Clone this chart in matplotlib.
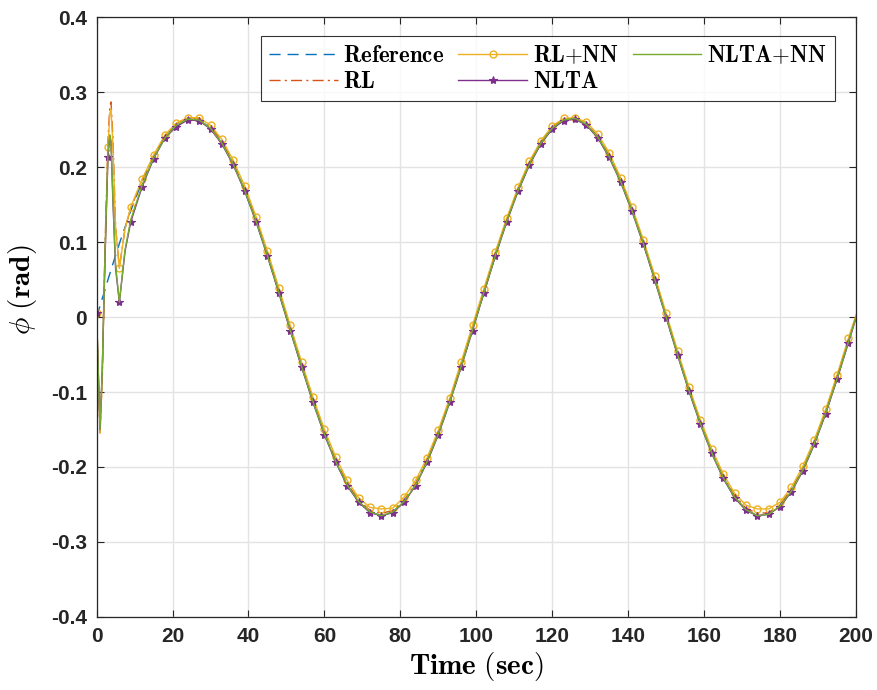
import numpy as np
import matplotlib.pyplot as plt

# time axis: fine samples in the start-up transient, then every 3 s
t_start = [0, 0.5, 0.9, 1.5, 2.2, 3, 3.5, 3.8, 4.3, 5, 6, 7.5]
t_steady = list(range(9, 199, 3)) + [200]
time = np.array(t_start + t_steady)

reference = [0.0, 0.008, 0.015, 0.025, 0.036, 0.050, 0.058, 0.063, 0.071, 0.082, 0.098, 0.120,
             0.142, 0.181, 0.214, 0.240, 0.257, 0.265, 0.263, 0.252, 0.232, 0.204, 0.169, 0.128,
             0.082, 0.033, -0.017, -0.066, -0.113, -0.156, -0.193, -0.224, -0.246, -0.260, -0.265,
             -0.260, -0.246, -0.224, -0.193, -0.156, -0.113, -0.066, -0.017, 0.033, 0.082, 0.128,
             0.169, 0.204, 0.232, 0.252, 0.263, 0.265, 0.257, 0.240, 0.214, 0.181, 0.142, 0.098,
             0.050, 0.000, -0.050, -0.098, -0.142, -0.181, -0.214, -0.240, -0.257, -0.265, -0.263,
             -0.252, -0.232, -0.204, -0.169, -0.128, -0.082, -0.033, 0.000]

rl = [0.005, -0.090, -0.157, -0.080, 0.090, 0.235, 0.282, 0.287, 0.240, 0.120, 0.066, 0.118,
      0.145, 0.183, 0.215, 0.241, 0.258, 0.266, 0.264, 0.254, 0.234, 0.206, 0.171, 0.130,
      0.084, 0.035, -0.015, -0.064, -0.111, -0.154, -0.191, -0.222, -0.244, -0.258, -0.262,
      -0.258, -0.244, -0.222, -0.191, -0.154, -0.111, -0.064, -0.015, 0.035, 0.084, 0.130,
      0.171, 0.206, 0.234, 0.254, 0.264, 0.266, 0.258, 0.241, 0.216, 0.183, 0.144, 0.100,
      0.052, 0.002, -0.048, -0.096, -0.140, -0.179, -0.212, -0.238, -0.255, -0.262, -0.261,
      -0.250, -0.230, -0.202, -0.167, -0.126, -0.080, -0.031, 0.001]

rl_nn = [0.005, -0.085, -0.155, -0.080, 0.080, 0.227, 0.272, 0.278, 0.230, 0.120, 0.065, 0.118,
         0.147, 0.184, 0.216, 0.243, 0.259, 0.266, 0.266, 0.256, 0.237, 0.209, 0.175, 0.134,
         0.088, 0.039, -0.011, -0.060, -0.107, -0.150, -0.187, -0.218, -0.241, -0.254, -0.256,
         -0.255, -0.240, -0.218, -0.188, -0.151, -0.108, -0.060, -0.011, 0.038, 0.087, 0.132,
         0.173, 0.208, 0.235, 0.255, 0.265, 0.266, 0.260, 0.244, 0.219, 0.186, 0.147, 0.103,
         0.055, 0.005, -0.045, -0.093, -0.137, -0.176, -0.209, -0.235, -0.251, -0.256, -0.256,
         -0.247, -0.227, -0.199, -0.164, -0.123, -0.077, -0.028, 0.003]

nlta = [0.005, -0.082, -0.150, -0.070, 0.075, 0.214, 0.242, 0.232, 0.155, 0.065, 0.020, 0.088,
        0.127, 0.174, 0.211, 0.239, 0.254, 0.263, 0.262, 0.251, 0.231, 0.203, 0.168, 0.127,
        0.081, 0.032, -0.018, -0.067, -0.114, -0.157, -0.194, -0.225, -0.247, -0.261, -0.265,
        -0.261, -0.247, -0.225, -0.194, -0.157, -0.114, -0.067, -0.018, 0.032, 0.081, 0.127,
        0.168, 0.203, 0.231, 0.251, 0.262, 0.264, 0.256, 0.239, 0.213, 0.180, 0.141, 0.097,
        0.049, -0.001, -0.051, -0.099, -0.143, -0.182, -0.215, -0.241, -0.258, -0.265, -0.263,
        -0.253, -0.233, -0.205, -0.170, -0.129, -0.083, -0.034, -0.001]

nlta_nn = [0.005, -0.080, -0.150, -0.070, 0.080, 0.220, 0.243, 0.235, 0.160, 0.070, 0.020, 0.090,
           0.130, 0.176, 0.212, 0.239, 0.256, 0.264, 0.263, 0.252, 0.232, 0.204, 0.169, 0.128,
           0.082, 0.033, -0.017, -0.066, -0.113, -0.156, -0.193, -0.224, -0.246, -0.260, -0.265,
           -0.260, -0.246, -0.224, -0.193, -0.156, -0.113, -0.066, -0.017, 0.033, 0.082, 0.128,
           0.169, 0.204, 0.232, 0.252, 0.263, 0.265, 0.257, 0.240, 0.214, 0.181, 0.142, 0.098,
           0.050, 0.000, -0.050, -0.098, -0.142, -0.181, -0.214, -0.240, -0.257, -0.265, -0.263,
           -0.252, -0.232, -0.204, -0.169, -0.128, -0.082, -0.033, 0.000]

# markers only on the 3 s grid (t = 0, 3, 6, 9, ... 198)
marks = [0, 5, 10] + list(range(12, len(time) - 1))

plt.rcParams['mathtext.fontset'] = 'cm'
plt.rcParams['font.family'] = 'Liberation Sans'

fig = plt.figure(figsize=(8.78, 6.90), dpi=100)
ax = fig.add_axes([0.110, 0.106, 0.865, 0.869])

lw = 1.0
ax.plot(time, reference, color='#0072BD', linestyle=(0, (8, 5)), linewidth=lw,
        label=r'$\mathbf{Reference}$')
ax.plot(time, rl, color='#D95319', linestyle=(0, (8, 3, 1.5, 3)), linewidth=lw,
        label=r'$\mathbf{RL}$')
ax.plot(time, rl_nn, color='#EDB120', linewidth=lw, marker='o', markersize=5,
        markerfacecolor='none', markeredgewidth=1.0, markevery=marks,
        label=r'$\mathbf{RL{+}NN}$')
ax.plot(time, nlta, color='#7E2F8E', linewidth=lw, marker='*', markersize=6,
        markeredgewidth=0.8, markevery=marks, label=r'$\mathbf{NLTA}$')
ax.plot(time, nlta_nn, color='#77AC30', linewidth=lw,
        label=r'$\mathbf{NLTA{+}NN}$')

ax.set_xlim(0, 200)
ax.set_ylim(-0.4, 0.4)
ax.set_xticks(np.arange(0, 201, 20))
ax.set_yticks(np.arange(-0.4, 0.41, 0.1))
ax.set_yticklabels(['-0.4', '-0.3', '-0.2', '-0.1', '0', '0.1', '0.2', '0.3', '0.4'])
ax.grid(True, color='#e3e3e3', linewidth=1.0)
ax.set_axisbelow(True)
ax.tick_params(direction='in', top=True, right=True, length=5, width=0.8,
               labelsize=15, colors='#262626', pad=7)
for lab in ax.get_xticklabels() + ax.get_yticklabels():
    lab.set_fontweight('bold')
for sp in ax.spines.values():
    sp.set_color('#262626')
    sp.set_linewidth(0.9)

ax.set_xlabel(r'$\mathbf{Time\ (sec)}$', fontsize=21, labelpad=3)
ax.set_ylabel(r'$\phi\ \mathbf{(rad)}$', fontsize=21)
ax.yaxis.set_label_coords(-0.076, 0.545)

leg = ax.legend(ncol=3, loc='upper right', bbox_to_anchor=(0.972, 0.968),
                fontsize=16.5, frameon=True, fancybox=False, edgecolor='black',
                handlelength=3.0, columnspacing=0.6, handletextpad=0.25,
                borderpad=0.35, labelspacing=0.1, borderaxespad=0)
leg.get_frame().set_linewidth(0.8)

fig.savefig('out.png', dpi=100)
